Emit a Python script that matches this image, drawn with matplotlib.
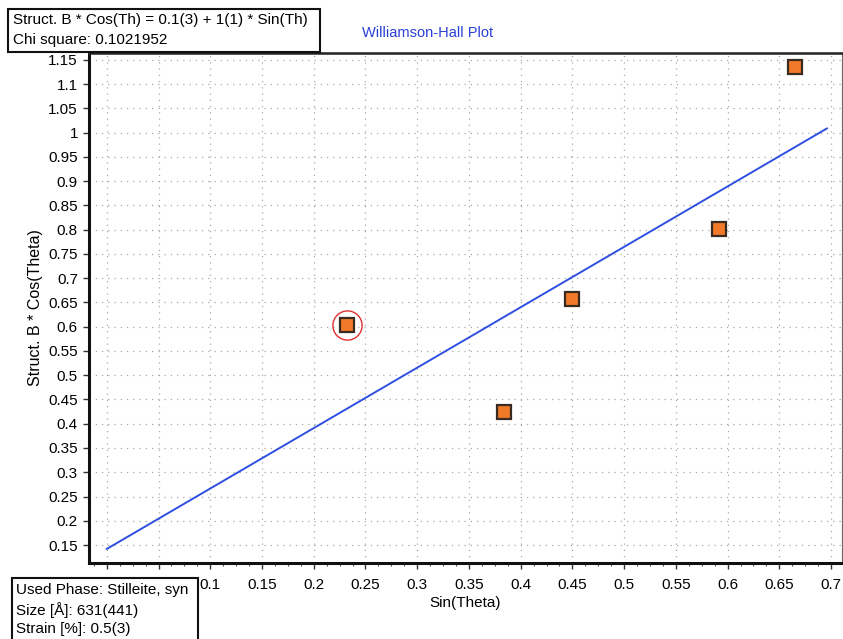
import numpy as np
import matplotlib.pyplot as plt
from matplotlib.patches import Rectangle
from matplotlib.ticker import MultipleLocator, FixedLocator

plt.rcParams['font.family'] = ['Liberation Sans', 'DejaVu Sans']

# data
sin_theta = [0.232, 0.384, 0.450, 0.592, 0.665]
b_cos_theta = [0.603, 0.425, 0.657, 0.801, 1.135]
outlier_idx = 0

# fitted line (as drawn)
fit_intercept = 0.142
fit_slope = 1.245
fit_x = [0.0, 0.696]

# 0 and 0.05 sit under the info box in the original, so no label for them
x_ticks = [0.0, 0.05, 0.1, 0.15, 0.2, 0.25, 0.3, 0.35, 0.4, 0.45, 0.5, 0.55, 0.6, 0.65, 0.7]
x_labels = ['', '', '0.1', '0.15', '0.2', '0.25', '0.3', '0.35', '0.4', '0.45', '0.5',
            '0.55', '0.6', '0.65', '0.7']
y_ticks = [0.15, 0.2, 0.25, 0.3, 0.35, 0.4, 0.45, 0.5, 0.55, 0.6, 0.65, 0.7,
           0.75, 0.8, 0.85, 0.9, 0.95, 1.0, 1.05, 1.1, 1.15]
y_labels = ['0.15', '0.2', '0.25', '0.3', '0.35', '0.4', '0.45', '0.5', '0.55',
            '0.6', '0.65', '0.7', '0.75', '0.8', '0.85', '0.9', '0.95', '1',
            '1.05', '1.1', '1.15']

fig = plt.figure(figsize=(8.43, 6.39), dpi=100)
ax = fig.add_axes([89 / 843, 1 - 563 / 639, (842 - 89) / 843, (563 - 53) / 639])

ax.set_xlim(-0.0172, 0.7106)
ax.set_ylim(0.113, 1.164)

# grid
ax.xaxis.set_major_locator(FixedLocator(x_ticks))
ax.yaxis.set_major_locator(FixedLocator(y_ticks))
ax.grid(True, which='major', linestyle=(0, (1, 4)), color='#a8a8a8', linewidth=0.9)
ax.set_axisbelow(True)

# fit line
fx = np.array(fit_x)
ax.plot(fx, fit_intercept + fit_slope * fx, color='#2f4fe0', linewidth=1.4, zorder=3)

# points
ax.plot(sin_theta, b_cos_theta, linestyle='none', marker='s', markersize=10,
        markerfacecolor='#f07a2a', markeredgecolor='#3a2a20', markeredgewidth=1.6, zorder=4)
ax.plot(sin_theta[outlier_idx], b_cos_theta[outlier_idx], linestyle='none', marker='o',
        markersize=21, markerfacecolor='none', markeredgecolor='#e03030',
        markeredgewidth=1.0, zorder=5)

# ticks and labels
ax.set_xticklabels(x_labels, fontsize=11)
ax.set_yticklabels(y_labels, fontsize=11)
ax.xaxis.set_minor_locator(MultipleLocator(0.0125))
ax.tick_params(axis='both', which='major', direction='out', length=4, width=1, color='#333333')
ax.tick_params(axis='x', which='minor', direction='out', length=2, width=0.8, color='#555555')
ax.tick_params(axis='y', pad=4)
ax.tick_params(axis='x', pad=7)

ax.set_xlabel('Sin(Theta)', fontsize=11, labelpad=3)
ax.set_ylabel('Struct. B * Cos(Theta)', fontsize=11.5, labelpad=4)

for side, lw, col in [('left', 2.2, '#111111'), ('bottom', 2.2, '#111111'),
                      ('top', 1.8, '#222222'), ('right', 0.8, '#666666')]:
    ax.spines[side].set_linewidth(lw)
    ax.spines[side].set_color(col)

# title
fig.text(428 / 843, 1 - 33 / 639, 'Williamson-Hall Plot', color='#2a3fd8',
         fontsize=10.5, ha='center', va='center')

# info box top-left
fig.patches.append(Rectangle((8 / 843, 1 - 52 / 639), 312 / 843, 43 / 639,
                             transform=fig.transFigure, facecolor='white',
                             edgecolor='#111111', linewidth=1.5, zorder=10))
fig.text(13 / 843, 1 - 20 / 639, 'Struct. B * Cos(Th) = 0.1(3) + 1(1) * Sin(Th)',
         fontsize=11, ha='left', va='center', zorder=11)
fig.text(13 / 843, 1 - 40 / 639, 'Chi square: 0.1021952',
         fontsize=11, ha='left', va='center', zorder=11)

# info box bottom-left
fig.patches.append(Rectangle((12 / 843, -0.01), 186 / 843, (639 - 578) / 639 + 0.01,
                             transform=fig.transFigure, facecolor='white',
                             edgecolor='#111111', linewidth=1.5, zorder=10))
fig.text(16 / 843, 1 - 590 / 639, 'Used Phase: Stilleite, syn',
         fontsize=11, ha='left', va='center', zorder=11)
fig.text(16 / 843, 1 - 610 / 639, 'Size [Å]: 631(441)',
         fontsize=11, ha='left', va='center', zorder=11)
fig.text(16 / 843, 1 - 629 / 639, 'Strain [%]: 0.5(3)',
         fontsize=11, ha='left', va='center', zorder=11)

fig.savefig('out.png', dpi=100)
